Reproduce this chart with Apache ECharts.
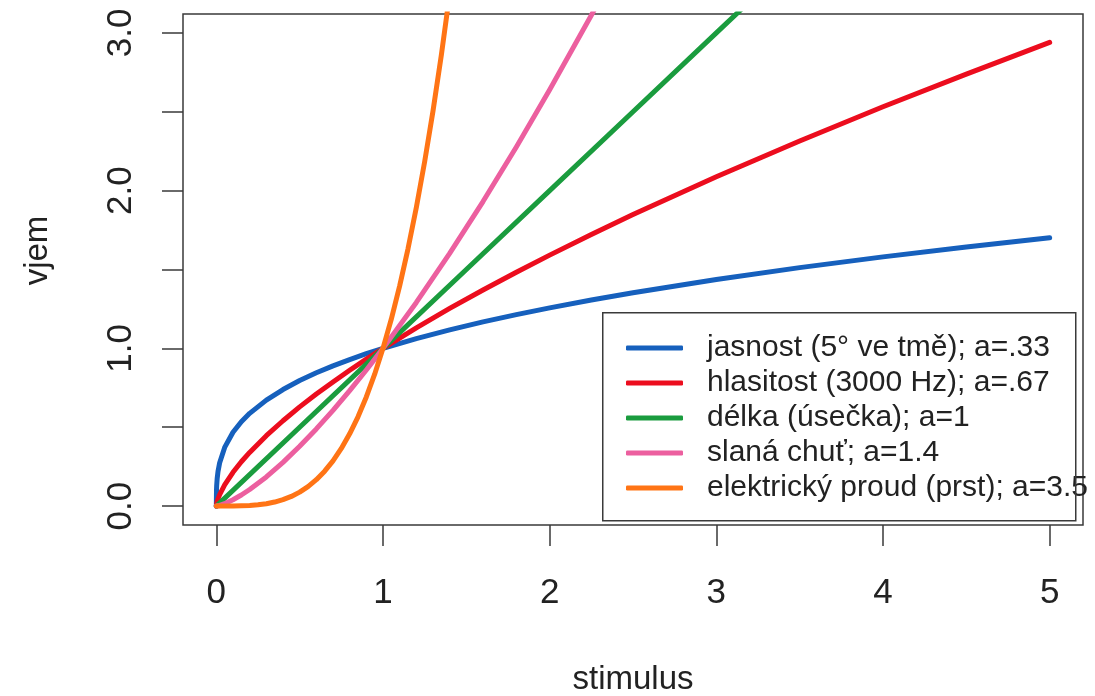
<!DOCTYPE html>
<html>
<head>
<meta charset="utf-8">
<script src="https://cdn.jsdelivr.net/npm/echarts@6/dist/echarts.min.js"></script>
<style>
  html, body { margin: 0; padding: 0; background: #fff; }
  #main { width: 1095px; height: 696px; }
</style>
</head>
<body>
<div id="main"></div>
<script>
// Stevensův mocninný zákon
const seriesNames = [
  'jasnost (5° ve tmě); a=.33',
  'hlasitost (3000 Hz); a=.67',
  'délka (úsečka); a=1',
  'slaná chuť; a=1.4',
  'elektrický proud (prst); a=3.5'
];
const seriesColors = ['#1660bd', '#ec0d1e', '#1a9c3e', '#ec5f9f', '#ff7415'];

const fineStimulus = [0, 0.001, 0.002, 0.005, 0.01, 0.02, 0.05, 0.1, 0.15, 0.2, 0.3, 0.4, 0.5, 0.6, 0.7, 0.8, 0.9, 1, 1.2, 1.4, 1.6, 1.8, 2, 2.25, 2.5, 3, 3.5, 4, 4.5, 5];
const jasnost = [0, 0.102, 0.129, 0.174, 0.219, 0.275, 0.372, 0.468, 0.535, 0.588, 0.672, 0.739, 0.796, 0.845, 0.889, 0.929, 0.966, 1, 1.062, 1.117, 1.168, 1.214, 1.257, 1.307, 1.353, 1.437, 1.512, 1.580, 1.643, 1.701];
const hlasitost = [0, 0.010, 0.016, 0.029, 0.046, 0.073, 0.134, 0.214, 0.281, 0.340, 0.446, 0.541, 0.629, 0.710, 0.787, 0.861, 0.932, 1, 1.130, 1.253, 1.370, 1.483, 1.591, 1.722, 1.848, 2.088, 2.315, 2.532, 2.739, 2.940];

const delkaStimulus = [0, 0.5, 1, 1.5, 2, 2.5, 3, 3.5];
const delka = [0, 0.5, 1, 1.5, 2, 2.5, 3, 3.5];

const chutStimulus = [0, 0.01, 0.02, 0.05, 0.1, 0.15, 0.2, 0.3, 0.4, 0.5, 0.6, 0.7, 0.8, 0.9, 1, 1.2, 1.4, 1.6, 1.8, 2, 2.25, 2.5];
const chut = [0, 0.002, 0.004, 0.015, 0.040, 0.070, 0.105, 0.185, 0.277, 0.379, 0.489, 0.607, 0.732, 0.863, 1, 1.291, 1.602, 1.931, 2.277, 2.639, 3.112, 3.607];

const proudStimulus = [0, 0.1, 0.2, 0.25, 0.3, 0.35, 0.4, 0.45, 0.5, 0.55, 0.6, 0.65, 0.7, 0.75, 0.8, 0.85, 0.9, 0.95, 1, 1.05, 1.1, 1.15, 1.2, 1.25, 1.3, 1.35, 1.4];
const proud = [0, 0.0003, 0.0036, 0.0078, 0.0148, 0.0254, 0.0405, 0.0611, 0.0884, 0.1234, 0.1673, 0.2214, 0.2870, 0.3653, 0.458, 0.566, 0.692, 0.836, 1, 1.186, 1.396, 1.631, 1.893, 2.184, 2.505, 2.859, 3.247];

const xTicks = [0, 1, 2, 3, 4, 5];
const yTicks = [0, 0.5, 1, 1.5, 2, 2.5, 3];
const yLabels = [0, 1, 2, 3];

const pairs = (xs, ys) => xs.map((x, i) => [x, ys[i]]);
const allData = [
  pairs(fineStimulus, jasnost),
  pairs(fineStimulus, hlasitost),
  pairs(delkaStimulus, delka),
  pairs(chutStimulus, chut),
  pairs(proudStimulus, proud)
];

const font = 'Liberation Sans, Arial, sans-serif';
const ink = '#222';

const myChart = echarts.init(document.getElementById('main'));
const option = {
  animation: false,
  backgroundColor: '#fff',
  textStyle: { fontFamily: font },
  grid: {
    left: 183, right: 12, top: 14, bottom: 171,
    containLabel: false, outerBoundsMode: 'none',
    show: true, borderColor: '#3a3a3a', borderWidth: 1.5, backgroundColor: 'transparent'
  },
  xAxis: {
    type: 'value', min: -0.2, max: 5.2,
    name: 'stimulus', nameLocation: 'middle', nameGap: 138,
    nameTextStyle: { fontSize: 33, color: ink, fontFamily: font },
    axisLine: { show: false, onZero: false },
    axisTick: { show: true, inside: false, length: 21, lineStyle: { color: '#3a3a3a', width: 1.5 }, customValues: xTicks },
    axisLabel: { fontSize: 35, color: ink, margin: 51, fontFamily: font, customValues: xTicks },
    splitLine: { show: false }
  },
  yAxis: {
    type: 'value', min: -0.12, max: 3.12,
    name: 'vjem', nameLocation: 'middle', nameGap: 129, nameRotate: 90,
    nameTextStyle: { fontSize: 33, color: ink, fontFamily: font, padding: [0, 0, 0, 38] },
    axisLine: { show: false, onZero: false },
    axisTick: { show: true, inside: false, length: 21, lineStyle: { color: '#3a3a3a', width: 1.5 }, customValues: yTicks },
    axisLabel: {
      fontSize: 35, color: ink, margin: 44, rotate: 90, fontFamily: font,
      customValues: yLabels,
      formatter: v => v.toFixed(1)
    },
    splitLine: { show: false }
  },
  legend: {
    orient: 'vertical', left: 602, top: 312,
    padding: [21, 0, 0, 24], itemGap: 5,
    itemWidth: 57, itemHeight: 5, icon: 'roundRect',
    selectedMode: false,
    textStyle: { fontSize: 30, color: ink, fontFamily: font, lineHeight: 30, padding: [0, 0, 0, 19] },
    data: seriesNames
  },
  graphic: [{
    type: 'rect', left: 602, top: 312, z: 10,
    shape: { width: 473, height: 208 },
    style: { fill: 'transparent', stroke: '#3a3a3a', lineWidth: 1.5 }
  }],
  series: seriesNames.map((name, i) => ({
    name: name,
    type: 'line',
    data: allData[i],
    showSymbol: false,
    clip: true,
    color: seriesColors[i],
    lineStyle: { width: 5, color: seriesColors[i], cap: 'round', join: 'round' }
  }))
};
myChart.setOption(option);
</script>
</body>
</html>
